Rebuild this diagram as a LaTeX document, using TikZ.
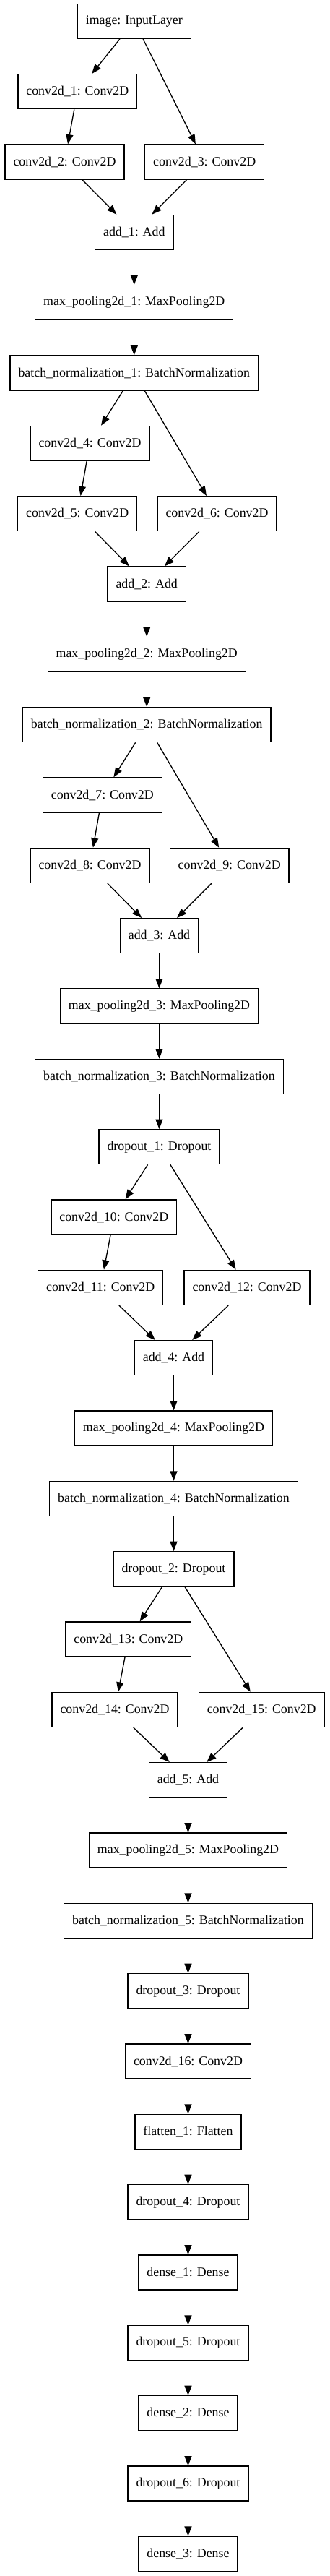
\documentclass[tikz,border=0pt]{standalone}
\usepackage{fontspec}
\setmainfont{Liberation Serif}
\usetikzlibrary{arrows.meta}
\tikzset{>={Triangle[length=10pt,width=7.5pt]}}
\tikzset{layer/.style={draw, line width=1pt, rectangle, minimum height=36pt, inner xsep=8.6pt, inner ysep=0pt,
  font=\fontsize{13.4pt}{16pt}\selectfont}}

\begin{document}
\begin{tikzpicture}[x=0.75pt, y=-73pt]
\useasboundingbox (0,-0.302) rectangle (457,36.315);

% first block
\node[layer] (img) at (185.8,0) {image: InputLayer};
\node[layer] (conv1) at (107.3,1) {conv2d\_1: Conv2D};
\node[layer] (conv2) at (89.5,2) {conv2d\_2: Conv2D};
\node[layer] (conv3) at (283.2,2) {conv2d\_3: Conv2D};
\node[layer] (add1) at (185.8,3) {add\_1: Add};
\node[layer] (pool1) at (185.8,4) {max\_pooling2d\_1: MaxPooling2D};
\node[layer] (bn1) at (185.8,5) {batch\_normalization\_1: BatchNormalization};

% second block
\node[layer] (conv4) at (124.5,6) {conv2d\_4: Conv2D};
\node[layer] (conv5) at (107.2,7) {conv2d\_5: Conv2D};
\node[layer] (conv6) at (300.5,7) {conv2d\_6: Conv2D};
\node[layer] (add2) at (203.2,8) {add\_2: Add};
\node[layer] (pool2) at (203.2,9) {max\_pooling2d\_2: MaxPooling2D};
\node[layer] (bn2) at (203.2,10) {batch\_normalization\_2: BatchNormalization};

% third block
\node[layer] (conv7) at (141.8,11) {conv2d\_7: Conv2D};
\node[layer] (conv8) at (124.5,12) {conv2d\_8: Conv2D};
\node[layer] (conv9) at (317.7,12) {conv2d\_9: Conv2D};
\node[layer] (add3) at (220.5,13) {add\_3: Add};
\node[layer] (pool3) at (220.5,14) {max\_pooling2d\_3: MaxPooling2D};
\node[layer] (bn3) at (220.5,15) {batch\_normalization\_3: BatchNormalization};
\node[layer] (drop1) at (220.5,16) {dropout\_1: Dropout};

% fourth block
\node[layer] (conv10) at (157.8,17) {conv2d\_10: Conv2D};
\node[layer] (conv11) at (139.2,18) {conv2d\_11: Conv2D};
\node[layer] (conv12) at (342,18) {conv2d\_12: Conv2D};
\node[layer] (add4) at (240.5,19) {add\_4: Add};
\node[layer] (pool4) at (240.5,20) {max\_pooling2d\_4: MaxPooling2D};
\node[layer] (bn4) at (240.5,21) {batch\_normalization\_4: BatchNormalization};
\node[layer] (drop2) at (240.5,22) {dropout\_2: Dropout};

% fifth block
\node[layer] (conv13) at (177.8,23) {conv2d\_13: Conv2D};
\node[layer] (conv14) at (159,24) {conv2d\_14: Conv2D};
\node[layer] (conv15) at (362.2,24) {conv2d\_15: Conv2D};
\node[layer] (add5) at (260.5,25) {add\_5: Add};
\node[layer] (pool5) at (260.5,26) {max\_pooling2d\_5: MaxPooling2D};
\node[layer] (bn5) at (260.5,27) {batch\_normalization\_5: BatchNormalization};
\node[layer] (drop3) at (260.5,28) {dropout\_3: Dropout};

% head
\node[layer] (conv16) at (260.5,29) {conv2d\_16: Conv2D};
\node[layer] (flat1) at (260.5,30) {flatten\_1: Flatten};
\node[layer] (drop4) at (260.5,31) {dropout\_4: Dropout};
\node[layer] (dense1) at (260.5,32) {dense\_1: Dense};
\node[layer] (drop5) at (260.5,33) {dropout\_5: Dropout};
\node[layer] (dense2) at (260.5,34) {dense\_2: Dense};
\node[layer] (drop6) at (260.5,35) {dropout\_6: Dropout};
\node[layer] (dense3) at (260.5,36) {dense\_3: Dense};

\draw[line width=1pt, ->] (img) -- (conv1);
\draw[line width=1pt, ->] (img) -- (conv3);
\draw[line width=1pt, ->] (conv1) -- (conv2);
\draw[line width=1pt, ->] (conv2) -- (add1);
\draw[line width=1pt, ->] (conv3) -- (add1);
\draw[line width=1pt, ->] (add1) -- (pool1);
\draw[line width=1pt, ->] (pool1) -- (bn1);

\draw[line width=1pt, ->] (bn1) -- (conv4);
\draw[line width=1pt, ->] (bn1) -- (conv6);
\draw[line width=1pt, ->] (conv4) -- (conv5);
\draw[line width=1pt, ->] (conv5) -- (add2);
\draw[line width=1pt, ->] (conv6) -- (add2);
\draw[line width=1pt, ->] (add2) -- (pool2);
\draw[line width=1pt, ->] (pool2) -- (bn2);

\draw[line width=1pt, ->] (bn2) -- (conv7);
\draw[line width=1pt, ->] (bn2) -- (conv9);
\draw[line width=1pt, ->] (conv7) -- (conv8);
\draw[line width=1pt, ->] (conv8) -- (add3);
\draw[line width=1pt, ->] (conv9) -- (add3);
\draw[line width=1pt, ->] (add3) -- (pool3);
\draw[line width=1pt, ->] (pool3) -- (bn3);
\draw[line width=1pt, ->] (bn3) -- (drop1);

\draw[line width=1pt, ->] (drop1) -- (conv10);
\draw[line width=1pt, ->] (drop1) -- (conv12);
\draw[line width=1pt, ->] (conv10) -- (conv11);
\draw[line width=1pt, ->] (conv11) -- (add4);
\draw[line width=1pt, ->] (conv12) -- (add4);
\draw[line width=1pt, ->] (add4) -- (pool4);
\draw[line width=1pt, ->] (pool4) -- (bn4);
\draw[line width=1pt, ->] (bn4) -- (drop2);

\draw[line width=1pt, ->] (drop2) -- (conv13);
\draw[line width=1pt, ->] (drop2) -- (conv15);
\draw[line width=1pt, ->] (conv13) -- (conv14);
\draw[line width=1pt, ->] (conv14) -- (add5);
\draw[line width=1pt, ->] (conv15) -- (add5);
\draw[line width=1pt, ->] (add5) -- (pool5);
\draw[line width=1pt, ->] (pool5) -- (bn5);
\draw[line width=1pt, ->] (bn5) -- (drop3);

\draw[line width=1pt, ->] (drop3) -- (conv16);
\draw[line width=1pt, ->] (conv16) -- (flat1);
\draw[line width=1pt, ->] (flat1) -- (drop4);
\draw[line width=1pt, ->] (drop4) -- (dense1);
\draw[line width=1pt, ->] (dense1) -- (drop5);
\draw[line width=1pt, ->] (drop5) -- (dense2);
\draw[line width=1pt, ->] (dense2) -- (drop6);
\draw[line width=1pt, ->] (drop6) -- (dense3);

\end{tikzpicture}
\end{document}
